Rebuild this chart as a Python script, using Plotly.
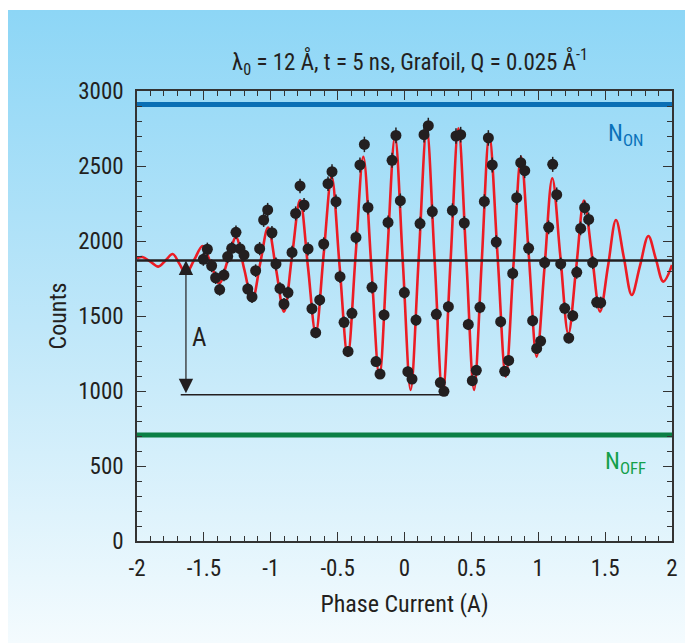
import base64
import plotly.graph_objects as go

# ---------------- data ----------------
phase = [-1.504, -1.474, -1.442, -1.412, -1.382, -1.350, -1.322, -1.292, -1.260, -1.230,
         -1.200, -1.172, -1.140, -1.113, -1.083, -1.053, -1.023, -0.991, -0.961, -0.931,
         -0.901, -0.871, -0.841, -0.814, -0.781, -0.751, -0.721, -0.692, -0.664, -0.634,
         -0.604, -0.572, -0.542, -0.512, -0.482, -0.452, -0.422, -0.393, -0.363, -0.333,
         -0.300, -0.273, -0.243, -0.213, -0.183, -0.153, -0.123, -0.093, -0.064, -0.031,
         -0.001, 0.025, 0.056, 0.086, 0.116, 0.146, 0.178, 0.208, 0.238, 0.268,
         0.295, 0.328, 0.358, 0.385, 0.420, 0.447, 0.477, 0.507, 0.537, 0.564,
         0.597, 0.627, 0.656, 0.686, 0.719, 0.749, 0.779, 0.809, 0.839, 0.869,
         0.899, 0.928, 0.958, 0.988, 1.018, 1.048, 1.078, 1.108, 1.138, 1.168,
         1.198, 1.228, 1.258, 1.288, 1.317, 1.347, 1.377, 1.407, 1.437, 1.467]
counts = [1878, 1945, 1835, 1755, 1676, 1773, 1896, 1951, 2058, 1949,
          1907, 1680, 1627, 1802, 1949, 2140, 2207, 2055, 1847, 1684,
          1580, 1656, 1924, 2184, 2367, 2240, 1947, 1549, 1389, 1607,
          1980, 2382, 2462, 2262, 1762, 1458, 1264, 1518, 2024, 2507,
          2644, 2224, 1691, 1196, 1113, 1507, 2124, 2538, 2704, 2269,
          1656, 1129, 1080, 1473, 2116, 2709, 2769, 2196, 1511, 1056,
          998, 1562, 2204, 2700, 2709, 2120, 1444, 1069, 1138, 1558,
          2264, 2687, 2507, 1993, 1462, 1131, 1204, 1784, 2289, 2522,
          2469, 1951, 1469, 1284, 1333, 1856, 2091, 2511, 2309, 1847,
          1551, 1353, 1502, 1791, 2084, 2222, 2144, 1856, 1591, 1589]

# fitted curve: read extrema and mean-line crossings
fit_x = [-2.000, -1.960, -1.900, -1.841, -1.787, -1.733, -1.684, -1.634, -1.572, -1.509,
         -1.447, -1.385, -1.322, -1.260, -1.199, -1.138, -1.079, -1.020, -0.960, -0.901,
         -0.841, -0.781, -0.722, -0.664, -0.605, -0.545, -0.485, -0.425, -0.366, -0.308,
         -0.248, -0.188, -0.130, -0.071, -0.012, 0.046, 0.106, 0.166, 0.226, 0.285,
         0.344, 0.403, 0.462, 0.520, 0.577, 0.634, 0.696, 0.757, 0.814, 0.871,
         0.930, 0.988, 1.047, 1.105, 1.165, 1.225, 1.284, 1.342, 1.402, 1.462,
         1.522, 1.581, 1.640, 1.699, 1.761, 1.823, 1.879, 1.935, 2.000]
fit_y = [1885, 1893, 1862, 1829, 1870, 1913, 1850, 1784, 1875, 1967,
         1845, 1718, 1870, 2024, 1815, 1607, 1850, 2090, 1810, 1529,
         1900, 2273, 1830, 1385, 1905, 2429, 1830, 1233, 1900, 2562,
         1830, 1096, 1895, 2696, 1850, 1007, 1880, 2751, 1860, 973,
         1860, 2751, 1880, 1007, 1855, 2707, 1900, 1096, 1830, 2562,
         1895, 1229, 1825, 2418, 1900, 1380, 1825, 2269, 1900, 1529,
         1835, 2140, 1890, 1640, 1836, 2033, 1881, 1729, 1840]

x_range = [-2, 2]
mean_level = 1870
n_on = 2910
n_off = 707
a_x = -1.634
a_bottom = 975
a_line_end = 0.29
x_ticks = [-2, -1.5, -1, -0.5, 0, 0.5, 1, 1.5, 2]
x_tick_labels = ["-2", "-1.5", "-1", "-0.5", "0", "0.5", "1", "1.5", "2"]
y_ticks = [0, 500, 1000, 1500, 2000, 2500, 3000]

# ---------------- styling ----------------
FONT = "Liberation Sans Narrow, Arial Narrow, Roboto Condensed, Roboto, sans-serif"
INK = "#231f20"

OFF = 8  # page body margin of the browser
W, H = 693 - OFF, 643 - OFF
L, R, T, B = 137 - OFF, 21, 91 - OFF, 102
pw, ph = W - L - R, H - T - B

svg = ("<svg xmlns='http://www.w3.org/2000/svg' width='687' height='633' preserveAspectRatio='none'>"
       "<defs><linearGradient id='g' x1='0' y1='0' x2='0' y2='1'>"
       "<stop offset='0' stop-color='#8dd6f6'/><stop offset='0.5' stop-color='#bfe7f9'/>"
       "<stop offset='1' stop-color='#f4fbfe'/></linearGradient></defs>"
       "<rect width='100%' height='100%' fill='url(#g)'/></svg>")
bg_src = "data:image/svg+xml;base64," + base64.b64encode(svg.encode()).decode()
bg_left = 0
bg_top = 10 - OFF

fig = go.Figure()

fig.add_trace(go.Scatter(x=x_range, y=[n_on, n_on], mode="lines",
                         line=dict(color="#0a6fb5", width=5), hoverinfo="skip"))
fig.add_trace(go.Scatter(x=x_range, y=[n_off, n_off], mode="lines",
                         line=dict(color="#0b7f45", width=5), hoverinfo="skip"))
fig.add_trace(go.Scatter(x=fit_x, y=fit_y, mode="lines",
                         line=dict(color="#ec1c24", width=2.6, shape="spline", smoothing=1.0),
                         hoverinfo="skip"))
fig.add_trace(go.Scatter(x=x_range, y=[mean_level, mean_level], mode="lines",
                         line=dict(color=INK, width=2.6), hoverinfo="skip"))
fig.add_trace(go.Scatter(x=phase, y=counts, mode="markers",
                         marker=dict(color=INK, size=11),
                         error_y=dict(type="sqrt", color=INK, thickness=1.5, width=0)))

fig.add_shape(type="line", x0=a_x - 0.039, x1=a_line_end, y0=a_bottom, y1=a_bottom,
              line=dict(color=INK, width=1.3))

fig.add_annotation(x=a_x, y=mean_level, ax=a_x, ay=a_bottom, axref="x", ayref="y",
                   xref="x", yref="y", text="", showarrow=True,
                   arrowside="end+start", arrowhead=2, startarrowhead=2,
                   arrowsize=2.4, startarrowsize=2.4, arrowwidth=1.2, arrowcolor=INK)
fig.add_annotation(x=-1.537, y=1360, text="A", showarrow=False,
                   font=dict(family=FONT, size=25, color=INK))
fig.add_annotation(x=1.65, y=2712, text="N<sub>ON</sub>", showarrow=False,
                   font=dict(family=FONT, size=24, color="#0a72ba"))
fig.add_annotation(x=1.65, y=525, text="N<sub>OFF</sub>", showarrow=False,
                   font=dict(family=FONT, size=24, color="#14a04b"))

fig.add_layout_image(dict(source=bg_src, xref="paper", yref="paper",
                          x=(bg_left - L) / pw, y=(H - B - bg_top) / ph,
                          sizex=(W - bg_left) / pw, sizey=(H - bg_top) / ph,
                          sizing="stretch", xanchor="left", yanchor="top",
                          layer="below"))

axis_common = dict(showgrid=False, zeroline=False, showline=True, linecolor="#333333",
                   linewidth=1.5, mirror="ticks", ticks="inside", tickcolor="#333333",
                   tickwidth=1.2, tickfont=dict(family=FONT, size=23, color=INK))

fig.update_xaxes(range=x_range, tickvals=x_ticks, ticktext=x_tick_labels, ticklen=9,
                 ticklabelstandoff=6,
                 minor=dict(ticks="inside", dtick=0.1, ticklen=5, tickcolor="#333333",
                            tickwidth=1, showgrid=False),
                 title=dict(text="Phase Current (A)", standoff=14,
                            font=dict(family=FONT, size=24, color=INK)),
                 **axis_common)
fig.update_yaxes(range=[0, 3000], tickvals=y_ticks, ticklen=9, ticklabelstandoff=7,
                 minor=dict(ticks="inside", dtick=100, ticklen=5, tickcolor="#333333",
                            tickwidth=1, showgrid=False),
                 title=dict(text="Counts", standoff=5,
                            font=dict(family=FONT, size=24, color=INK)),
                 **axis_common)

fig.update_layout(
    width=W, height=H,
    margin=dict(l=L, r=R, t=T, b=B, autoexpand=False),
    paper_bgcolor="white", plot_bgcolor="rgba(0,0,0,0)",
    showlegend=False,
    title=dict(text="λ<sub>0</sub> = 12 Å, t = 5 ns, Grafoil, Q = 0.025 Å<sup>-1</sup>",
               x=((410 - OFF) / W), xanchor="center", y=1 - (62 - OFF) / H, yanchor="middle",
               font=dict(family=FONT, size=23, color=INK)),
)

fig.write_html("out.html")
